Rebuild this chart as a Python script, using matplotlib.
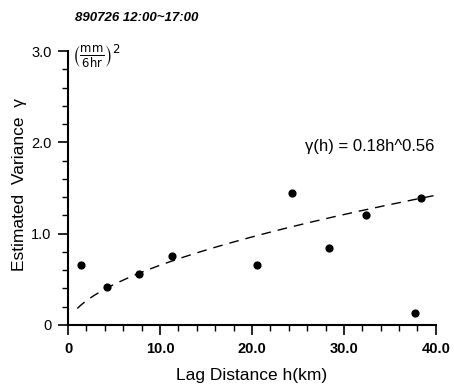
import matplotlib
matplotlib.use("Agg")
import matplotlib.pyplot as plt
import numpy as np

plt.rcParams['font.family'] = ['Liberation Sans', 'DejaVu Sans']

# observed semivariogram points (lag km, variance)
lag = [1.4, 4.2, 7.7, 11.3, 20.6, 24.4, 28.4, 32.4, 38.4, 37.7]
variance = [0.66, 0.41, 0.56, 0.76, 0.66, 1.45, 0.84, 1.20, 1.39, 0.13]

# fitted power model gamma(h) = a * h^b
fit_a = 0.18
fit_b = 0.56
fit_range = (1.0, 40.0)

xticks = [0, 10, 20, 30, 40]
xticklabels = ['0', '10.0', '20.0', '30.0', '40.0']
yticks = [0, 1, 2, 3]
yticklabels = ['0', '1.0', '2.0', '3.0']

fig = plt.figure(figsize=(4.54, 3.9), dpi=100)
ax = fig.add_axes([0.150, 0.167, 0.810, 0.702])

h = np.linspace(fit_range[0], fit_range[1], 200)
ax.plot(h, fit_a * h ** fit_b, color='black', lw=1.0, dashes=(7, 5))
ax.scatter(lag, variance, s=24, color='black', zorder=3)

ax.set_xlim(0, 40)
ax.set_ylim(0, 3.0)
ax.set_xticks(xticks)
ax.set_xticklabels(xticklabels, fontsize=10.5, fontweight='bold')
ax.set_yticks(yticks)
ax.set_yticklabels(yticklabels, fontsize=10.5)
ax.set_xticks(np.arange(0, 41, 2), minor=True)
ax.set_yticks(np.arange(0, 3.01, 0.2), minor=True)
ax.tick_params(which='major', length=7, width=1.2, direction='out', pad=5)
ax.tick_params(which='minor', length=4, width=1.0, direction='out')
for side in ['top', 'right']:
    ax.spines[side].set_visible(False)
for side in ['left', 'bottom']:
    ax.spines[side].set_linewidth(1.5)

ax.set_xlabel('Lag Distance h(km)', fontsize=12.5, labelpad=9)
fig.text(0.043, 0.528, 'Estimated  Variance  \u03b3', rotation=90,
         ha='center', va='center', fontsize=12.5)

ax.text(0.995, 0.65, '\u03b3(h) = 0.18h^0.56', transform=ax.transAxes,
        ha='right', va='center', fontsize=12)
fig.text(0.158, 0.857, r'$\left(\frac{\mathrm{mm}}{\mathrm{6hr}}\right)^2$',
         ha='left', va='center', fontsize=12)
fig.text(0.165, 0.955, '890726 12:00~17:00', ha='left', va='center',
         fontsize=9.5, fontweight='bold', style='italic')

fig.savefig('out.png', dpi=100)
